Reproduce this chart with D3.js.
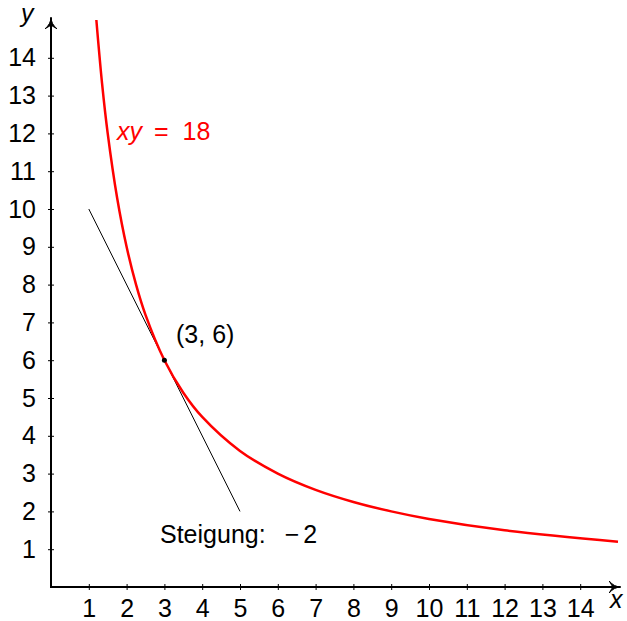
<!DOCTYPE html>
<html>
<head>
<meta charset="utf-8">
<script src="https://cdn.jsdelivr.net/npm/d3@7"></script>
<style>
  body { margin: 0; background: #fff; }
  text { font-family: "Liberation Sans", Arial, sans-serif; }
</style>
</head>
<body>
<script>
// values
var curveX = [1.2, 1.35, 1.5, 1.75, 2, 2.25, 2.5, 3, 3.5, 4, 5, 6, 7, 8, 9, 10, 12, 15];
var curveY = [15, 13.33, 12, 10.29, 9, 8, 7.2, 6, 5.14, 4.5, 3.6, 3, 2.57, 2.25, 2, 1.8, 1.5, 1.2];
var tangentX = [1, 5];
var tangentY = [10, 2];
var pointX = [3];
var pointY = [6];
var xTicks = [1, 2, 3, 4, 5, 6, 7, 8, 9, 10, 11, 12, 13, 14];
var yTicks = [1, 2, 3, 4, 5, 6, 7, 8, 9, 10, 11, 12, 13, 14];

var width = 627, height = 621;
var x0 = 51, y0 = 587, unit = 37.8;
var fs = 25;

var svg = d3.select("body").append("svg")
    .attr("width", width)
    .attr("height", height);

var x = d3.scaleLinear().domain([0, 15]).range([x0, x0 + 15 * unit]);
var y = d3.scaleLinear().domain([0, 15]).range([y0, y0 - 15 * unit]);

svg.append("defs").append("marker")
    .attr("id", "arrow")
    .attr("viewBox", "0 0 10 10")
    .attr("refX", 9).attr("refY", 5)
    .attr("markerWidth", 6).attr("markerHeight", 6)
    .attr("markerUnits", "strokeWidth")
    .attr("orient", "auto")
  .append("path")
    .attr("d", "M0,0 Q4,5 10,5 Q4,5 0,10 L3,5 Z")
    .attr("fill", "#000").attr("stroke", "#000").attr("stroke-width", 0.8);

// axes
var xAxis = d3.axisBottom(x).tickValues(xTicks).tickSize(0).tickPadding(12);
var yAxis = d3.axisLeft(y).tickValues(yTicks).tickSize(0).tickPadding(15);

var gx = svg.append("g").attr("transform", "translate(0," + y0 + ")").call(xAxis);
var gy = svg.append("g").attr("transform", "translate(" + x0 + ",0)").call(yAxis);

[gx, gy].forEach(function(g) {
  g.select(".domain").remove();
  g.selectAll("text").attr("font-size", fs).attr("fill", "#000")
    .style("font-family", "'Liberation Sans', Arial, sans-serif");
});

// small ticks through the axis
gx.selectAll(".tick").append("line").attr("y1", -3).attr("y2", 3).attr("stroke", "#000");
gy.selectAll(".tick").append("line").attr("x1", -3).attr("x2", 3).attr("stroke", "#000");

svg.append("line")
    .attr("x1", x(0) - 1).attr("y1", y(0))
    .attr("x2", x(15) + 2).attr("y2", y(0))
    .attr("stroke", "#000").attr("stroke-width", 2)
    .attr("marker-end", "url(#arrow)");
svg.append("line")
    .attr("x1", x(0)).attr("y1", y(0) + 1)
    .attr("x2", x(0)).attr("y2", y(15) - 2)
    .attr("stroke", "#000").attr("stroke-width", 2)
    .attr("marker-end", "url(#arrow)");

svg.append("text").attr("x", 610).attr("y", 608)
    .attr("font-size", fs).attr("font-style", "italic").text("x");
svg.append("text").attr("x", 21).attr("y", 22)
    .attr("font-size", fs).attr("font-style", "italic").text("y");

// tangent
var line = d3.line().x(function(d) { return x(d[0]); }).y(function(d) { return y(d[1]); });
svg.append("path")
    .datum(d3.zip(tangentX, tangentY))
    .attr("d", line)
    .attr("fill", "none").attr("stroke", "#000").attr("stroke-width", 1);

// hyperbola
svg.append("path")
    .datum(d3.zip(curveX, curveY))
    .attr("d", line.curve(d3.curveCatmullRom.alpha(0.5)))
    .attr("fill", "none").attr("stroke", "#f00").attr("stroke-width", 2.5);

svg.selectAll(".pt")
    .data(d3.zip(pointX, pointY))
    .enter().append("circle")
    .attr("cx", function(d) { return x(d[0]); })
    .attr("cy", function(d) { return y(d[1]); })
    .attr("r", 2.5).attr("fill", "#000");

// labels
var lab = svg.append("text").attr("x", 117).attr("y", 140)
    .attr("font-size", fs).attr("fill", "#f00");
lab.append("tspan").attr("font-style", "italic").text("xy");
lab.append("tspan").attr("dx", 12).text("=");
lab.append("tspan").attr("dx", 14).text("18");

var pt = svg.append("text").attr("x", 176).attr("y", 343).attr("font-size", fs);
pt.append("tspan").text("(3,");
pt.append("tspan").attr("dx", 7).text("6)");

var st = svg.append("text").attr("x", 160).attr("y", 543).attr("font-size", fs);
st.append("tspan").text("Steigung:");
st.append("tspan").attr("dx", 19).text("\u2212");
st.append("tspan").attr("dx", 4).text("2");
</script>
</body>
</html>
